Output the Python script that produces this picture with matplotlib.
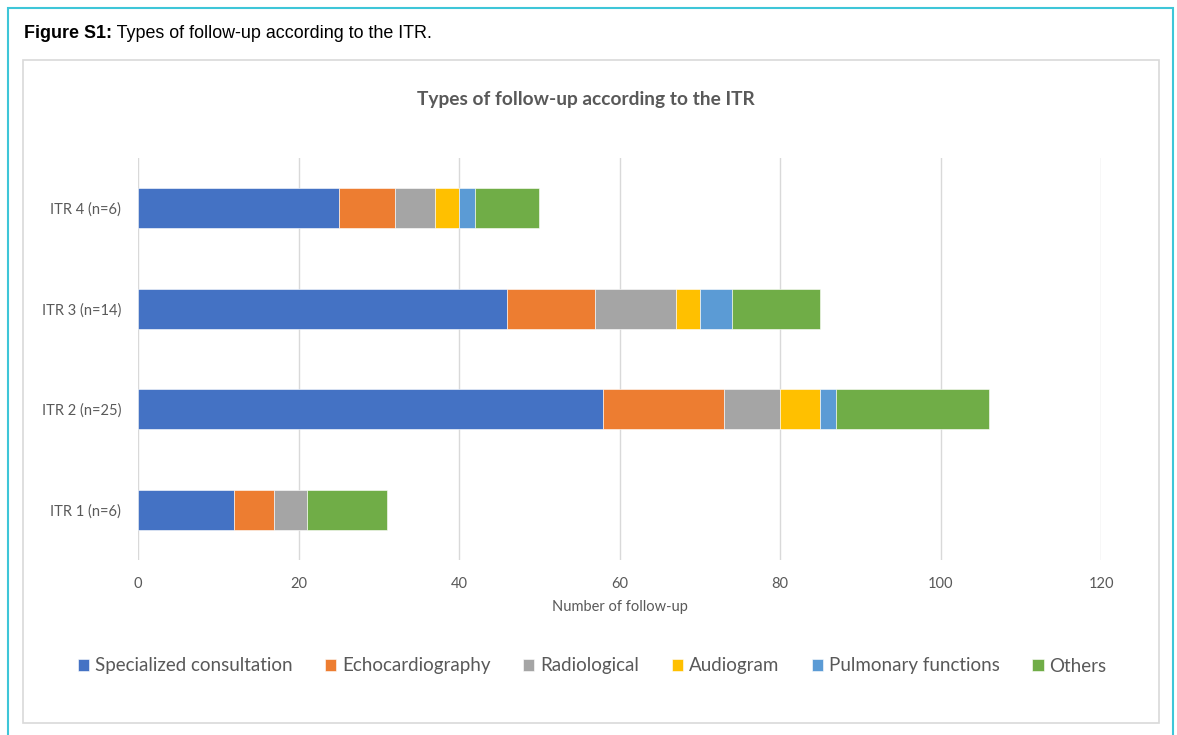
import numpy as np
import matplotlib.pyplot as plt
from matplotlib.patches import Rectangle

groups = ['ITR 1 (n=6)', 'ITR 2 (n=25)', 'ITR 3 (n=14)', 'ITR 4 (n=6)']
series = ['Specialized consultation', 'Echocardiography', 'Radiological',
          'Audiogram', 'Pulmonary functions', 'Others']
specialized = [12, 58, 46, 25]
echo = [5, 15, 11, 7]
radiological = [4, 7, 10, 5]
audiogram = [0, 5, 3, 3]
pulmonary = [0, 2, 4, 2]
others = [10, 19, 11, 8]
xticks = [0, 20, 40, 60, 80, 100, 120]

colors = ['#4472C4', '#ED7D31', '#A5A5A5', '#FFC000', '#5B9BD5', '#70AD47']
txt = '#595959'
font = 'Lato'

fig = plt.figure(figsize=(11.77, 7.35), dpi=100)

# outer frame and inner chart panel
fig.patches.append(Rectangle((8 / 1177, -0.05), 1165 / 1177, 1 - 8 / 735 + 0.05,
                             transform=fig.transFigure, fill=False,
                             edgecolor='#3EC6D8', linewidth=1.5))
fig.patches.append(Rectangle((23 / 1177, 1 - 723 / 735), 1136 / 1177, 663 / 735,
                             transform=fig.transFigure, fill=False,
                             edgecolor='#D9D9D9', linewidth=1.2))

ax = fig.add_axes([138 / 1177, 1 - 560 / 735, 963 / 1177, 402 / 735])

cap = fig.text(24 / 1177, 1 - 33 / 735, 'Figure S1:', fontsize=12.9, fontweight='bold',
               family='Liberation Sans', va='center', ha='left')
ax.annotate(' Types of follow-up according to the ITR.', xy=(1, 0.5),
            xycoords=cap, va='center', ha='left', fontsize=12.9,
            family='Liberation Sans', annotation_clip=False)

y = np.arange(len(groups))
left = np.zeros(len(groups))
for name, vals, c in zip(series, [specialized, echo, radiological, audiogram, pulmonary, others], colors):
    ax.barh(y, vals, left=left, height=0.4, color=c, label=name,
            edgecolor='white', linewidth=0.4)
    left += np.array(vals)

ax.set_xlim(0, 120)
ax.set_ylim(-0.5, 3.5)
ax.set_xticks(xticks)
ax.set_yticks(y)
ax.set_yticklabels(groups)
ax.grid(axis='x', color='#D9D9D9', linewidth=1)
ax.set_axisbelow(True)
for s in ax.spines.values():
    s.set_visible(False)
ax.tick_params(length=0, colors=txt, labelsize=10.5, pad=12)
ax.tick_params(axis='x', pad=12)
for lab in ax.get_xticklabels() + ax.get_yticklabels():
    lab.set_family(font)

ax.set_xlabel('Number of follow-up', fontsize=10.5, color=txt, family=font, labelpad=7)
fig.text(586 / 1177, 1 - 100 / 735, 'Types of follow-up according to the ITR',
         fontsize=13.8, fontweight='bold', color=txt, family=font,
         ha='center', va='center')

leg = fig.legend(loc='center', bbox_to_anchor=(592 / 1177, 1 - 666 / 735), ncol=6,
                 frameon=False, prop={'family': font, 'size': 13.5},
                 handlelength=0.6, handleheight=0.6, handletextpad=0.3,
                 columnspacing=1.75)
for t in leg.get_texts():
    t.set_color(txt)

fig.savefig('out.png', dpi=100)
